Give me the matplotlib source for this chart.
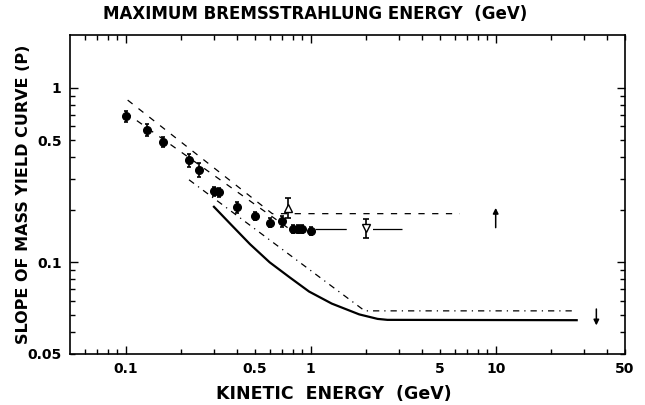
import matplotlib
matplotlib.use("Agg")
import matplotlib.pyplot as plt
from matplotlib.ticker import FixedLocator, FixedFormatter

plt.rcParams['font.family'] = ['DejaVu Sans']
plt.rcParams['font.weight'] = 'bold'

# measured points (filled circles)
KE = [0.10, 0.13, 0.16, 0.22, 0.25, 0.30, 0.32, 0.40, 0.50, 0.60, 0.70, 0.80, 0.85, 0.90, 1.0]
P = [0.69, 0.575, 0.49, 0.385, 0.34, 0.255, 0.252, 0.207, 0.184, 0.169, 0.172, 0.156, 0.156, 0.156, 0.151]
P_ERR = [0.05, 0.045, 0.035, 0.035, 0.03, 0.016, 0.016, 0.015, 0.01, 0.01, 0.012, 0.008, 0.008, 0.008, 0.008]

# open triangles
TRI_UP_X, TRI_UP_P, TRI_UP_ERR = [0.75], [0.205], [[0.025], [0.03]]
TRI_DN_X, TRI_DN_P, TRI_DN_ERR = [2.0], [0.158], [[0.021], [0.018]]

# curves
UPPER_X = [0.1025, 0.62, 6.4]
UPPER_P = [0.85, 0.19, 0.19]
LOWER_X = [0.10, 0.75]
LOWER_P = [0.72, 0.158]
LONG_X = [1.05, 3.1]
LONG_P = [0.156, 0.156]
DD_X = [0.22, 1.96, 27.0]
DD_P = [0.297, 0.0527, 0.0527]
SOLID_X = [0.30, 0.37, 0.47, 0.60, 0.77, 0.98, 1.30, 1.83, 2.3, 2.6, 27.4]
SOLID_P = [0.208, 0.165, 0.127, 0.100, 0.082, 0.068, 0.058, 0.0503, 0.0474, 0.0468, 0.0466]

# limit arrows (x, start, end)
ARROWS = [(10.0, 0.158, 0.205), (35.0, 0.054, 0.0435)]

X_MAJOR = [0.1, 1, 10]
X_MINOR = [0.06, 0.07, 0.08, 0.09, 0.2, 0.3, 0.4, 0.5, 0.6, 0.7, 0.8, 0.9,
           2, 3, 4, 5, 6, 7, 8, 9, 20, 30, 40, 50]
X_MINOR_LABELS = {0.5: '0.5', 5: '5', 50: '50'}
Y_MAJOR = [0.1, 1]
Y_MINOR = [0.03, 0.04, 0.05, 0.06, 0.07, 0.08, 0.09, 0.2, 0.3, 0.4, 0.5, 0.6, 0.7, 0.8, 0.9]
Y_MINOR_LABELS = {0.03: '0.05', 0.5: '0.5'}


def main():
    fig = plt.figure(figsize=(6.45, 4.05), dpi=100)
    ax = fig.add_axes([0.1085, 0.127, 0.8605, 0.786])
    ax.set_xscale('log')
    ax.set_yscale('log')
    ax.set_xlim(0.05, 50)
    ax.set_ylim(0.03, 2.0)

    ax.plot(UPPER_X, UPPER_P, color='black', lw=0.9, dashes=(5, 6))
    ax.plot(LOWER_X, LOWER_P, color='black', lw=0.9, dashes=(5, 6))
    ax.plot(LONG_X, LONG_P, color='black', lw=0.9, dashes=(25, 21))
    ax.plot(DD_X, DD_P, color='black', lw=0.9, dashes=(5, 4, 1, 4))
    ax.plot(SOLID_X, SOLID_P, color='black', lw=1.6)

    ax.errorbar(KE, P, yerr=P_ERR, fmt='o', color='black', ms=5.5,
                elinewidth=1.2, capsize=1.5, capthick=1.2)
    ax.errorbar(TRI_UP_X, TRI_UP_P, yerr=TRI_UP_ERR, fmt='^', color='black',
                mfc='white', ms=6, elinewidth=1.2, capsize=2, capthick=1.2)
    ax.errorbar(TRI_DN_X, TRI_DN_P, yerr=TRI_DN_ERR, fmt='v', color='black',
                mfc='white', ms=6, elinewidth=1.2, capsize=2, capthick=1.2)

    for x, y0, y1 in ARROWS:
        ax.annotate('', xy=(x, y1), xytext=(x, y0),
                    arrowprops=dict(arrowstyle='-|>', color='black', lw=1.1,
                                    mutation_scale=8, shrinkA=0, shrinkB=0))

    ax.xaxis.set_major_locator(FixedLocator(X_MAJOR))
    ax.xaxis.set_major_formatter(FixedFormatter(['0.1', '1', '10']))
    ax.xaxis.set_minor_locator(FixedLocator(X_MINOR))
    ax.xaxis.set_minor_formatter(FixedFormatter([X_MINOR_LABELS.get(v, '') for v in X_MINOR]))
    ax.yaxis.set_major_locator(FixedLocator(Y_MAJOR))
    ax.yaxis.set_major_formatter(FixedFormatter(['0.1', '1']))
    ax.yaxis.set_minor_locator(FixedLocator(Y_MINOR))
    ax.yaxis.set_minor_formatter(FixedFormatter([Y_MINOR_LABELS.get(v, '') for v in Y_MINOR]))

    ax.tick_params(which='both', direction='in', top=True, right=True,
                   labelsize=10, width=1.0, pad=6)
    ax.tick_params(which='major', length=6)
    ax.tick_params(which='minor', length=3.5)
    for s in ax.spines.values():
        s.set_linewidth(1.2)

    ax.set_xlabel('KINETIC  ENERGY  (GeV)', fontsize=12.5, fontweight='bold')
    ax.xaxis.set_label_coords(0.476, -0.1)
    ax.set_ylabel('SLOPE OF MASS YIELD CURVE (P)', fontsize=11.5, fontweight='bold')
    ax.yaxis.set_label_coords(-0.07, 0.5)
    fig.text(0.488, 0.965, 'MAXIMUM BREMSSTRAHLUNG ENERGY  (GeV)', fontsize=12,
             fontweight='bold', ha='center', va='center')

    fig.savefig('out.png', dpi=100)


if __name__ == '__main__':
    main()
